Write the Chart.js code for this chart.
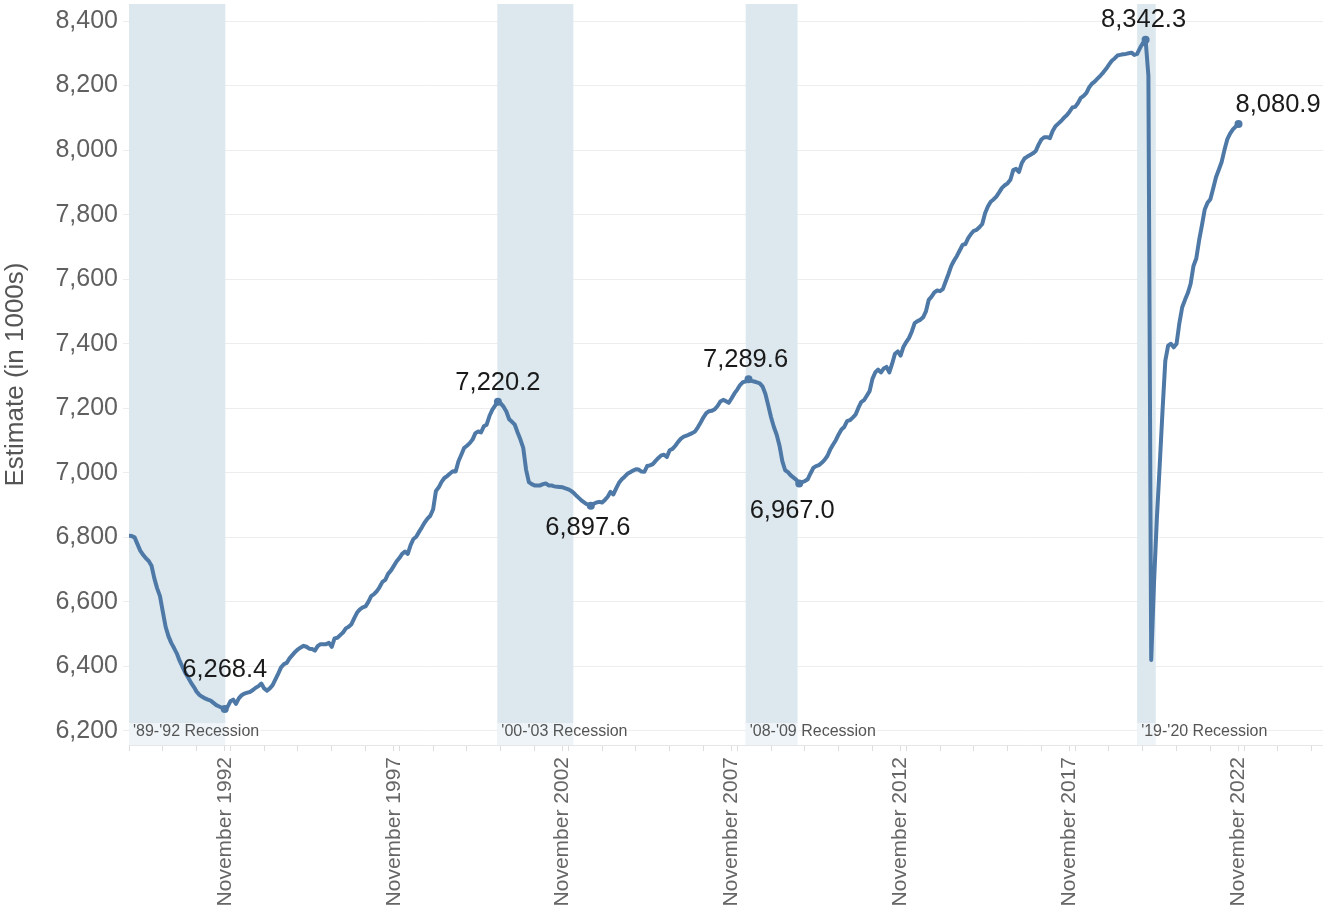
<!DOCTYPE html>
<html>
<head>
<meta charset="utf-8">
<script src="https://cdn.jsdelivr.net/npm/chart.js@4.4.1/dist/chart.umd.min.js"></script>
<style>
  html, body { margin: 0; padding: 0; background: #fff; }
  #graph { display: block; }
</style>
</head>
<body>
<canvas id="graph" width="1323" height="913"></canvas>
<script>
// monthly estimate (in 1000s), one row per year, starting January 1990
var firstYear = 1990;
var estimate = [
  6805, 6804, 6800, 6779, 6759, 6746, 6735, 6727, 6712, 6673, 6642, 6618,   // 1990
  6570, 6523, 6494, 6473, 6457, 6440, 6417, 6399, 6380, 6366, 6350, 6337,   // 1991
  6322, 6312, 6306, 6301, 6297, 6294, 6287, 6280, 6276, 6272, 6268.4, 6275, // 1992
  6292, 6297, 6284, 6301, 6311, 6316, 6319, 6321, 6327, 6334, 6339, 6347,   // 1993
  6332, 6325, 6332, 6342, 6360, 6378, 6397, 6407, 6411, 6425, 6435, 6445,   // 1994
  6453, 6459, 6464, 6461, 6455, 6454, 6449, 6463, 6469, 6469, 6469, 6473,   // 1995
  6461, 6487, 6489, 6497, 6505, 6518, 6523, 6531, 6550, 6567, 6577, 6583,   // 1996
  6586, 6600, 6618, 6624, 6633, 6646, 6662, 6668, 6687, 6697, 6711, 6725,   // 1997
  6736, 6749, 6756, 6749, 6776, 6795, 6802, 6817, 6831, 6846, 6858, 6867,   // 1998
  6887, 6944, 6955, 6972, 6984, 6990, 6998, 7005, 7004, 7036, 7056, 7077,   // 1999
  7084, 7092, 7103, 7123, 7128, 7125, 7144, 7149, 7176, 7195, 7208, 7220.2, // 2000
  7215, 7205, 7190, 7166, 7158, 7149, 7125, 7103, 7077, 7010, 6971, 6965,   // 2001
  6961, 6961, 6961, 6965, 6967, 6961, 6961, 6958, 6957, 6956, 6955, 6952,   // 2002
  6949, 6944, 6937, 6928, 6920, 6912, 6906, 6901, 6897.6, 6904, 6908, 6910, // 2003
  6908, 6916, 6926, 6941, 6933, 6952, 6969, 6980, 6988, 6997, 7002, 7007,   // 2004
  7011, 7010, 7004, 7003, 7021, 7023, 7027, 7037, 7046, 7054, 7056, 7049,   // 2005
  7070, 7074, 7084, 7096, 7106, 7112, 7115, 7119, 7123, 7128, 7141, 7156,   // 2006
  7172, 7185, 7191, 7192, 7197, 7207, 7221, 7226, 7222, 7217, 7231, 7246,   // 2007
  7258, 7272, 7281, 7283, 7289.6, 7285, 7283, 7280, 7277, 7267, 7244, 7209, // 2008
  7172, 7142, 7118, 7084, 7036, 7008, 7002, 6992, 6985, 6978, 6967.0, 6971, // 2009
  6974, 6980, 6998, 7015, 7021, 7024, 7031, 7040, 7052, 7072, 7087, 7101,   // 2010
  7119, 7134, 7142, 7160, 7163, 7171, 7180, 7201, 7219, 7225, 7239, 7253,   // 2011
  7291, 7311, 7320, 7311, 7323, 7328, 7311, 7338, 7369, 7376, 7363, 7390,   // 2012
  7405, 7418, 7438, 7464, 7470, 7474, 7482, 7500, 7536, 7546, 7559, 7565,   // 2013
  7563, 7569, 7593, 7616, 7641, 7658, 7672, 7689, 7706, 7709, 7727, 7740,   // 2014
  7750, 7753, 7761, 7771, 7804, 7825, 7840, 7847, 7856, 7869, 7883, 7891,   // 2015
  7897, 7908, 7938, 7942, 7932, 7959, 7974, 7980, 7985, 7990, 7997, 8017,   // 2016
  8033, 8040, 8040, 8037, 8059, 8074, 8082, 8090, 8100, 8108, 8119, 8132,   // 2017
  8134, 8146, 8162, 8168, 8177, 8195, 8206, 8213, 8222, 8231, 8241, 8252,   // 2018
  8265, 8277, 8284, 8293, 8295, 8297, 8298, 8300, 8302, 8295, 8298, 8316,   // 2019
  8331, 8342.3, 8230, 6420, 6660, 6858, 7021, 7190, 7347, 7394, 7400, 7389, // 2020
  7400, 7464, 7513, 7536, 7557, 7586, 7641, 7664, 7720, 7767, 7816, 7837,   // 2021
  7848, 7881, 7916, 7939, 7963, 8000, 8033, 8051, 8064, 8073, 8080.9        // 2022
];

var yTicks = [6200, 6400, 6600, 6800, 7000, 7200, 7400, 7600, 7800, 8000, 8200, 8400];
var xTickYears = [1992, 1997, 2002, 2007, 2012, 2017, 2022];
var lastAxisYear = 2025;

// recessions, in months counted from January 1990
var recessionNames = ["'89-'92 Recession", "'00-'03 Recession", "'08-'09 Recession", "'19-'20 Recession"];
var recessionStart = [0, 130.8, 219, 358];
var recessionEnd = [34.2, 157.8, 237.4, 364.6];

// months that get a value label
var markIndex = [34, 131, 164, 220, 238, 361, 394];

var font = "'Liberation Sans', Arial, sans-serif";
var lineColor = '#4e79a7';

// where each value label sits relative to its point
var labelPlace = [
  { dx: 0, dy: -32, align: 'center' },
  { dx: 0, dy: -12, align: 'center' },
  { dx: -3, dy: 29, align: 'center' },
  { dx: -3, dy: -12, align: 'center' },
  { dx: -7, dy: 35, align: 'center' },
  { dx: -2, dy: -13, align: 'center' },
  { dx: -3, dy: -12, align: 'left' }
];

var points = estimate.map(function(v, i) { return { x: i, y: v }; });

var xTicks = [];
for (var yr = firstYear; yr <= lastAxisYear; yr++) {
  xTicks.push((yr - firstYear) * 12);
}
xTickYears.forEach(function(yr) { xTicks.push((yr - firstYear) * 12 + 10); });
xTicks.sort(function(a, b) { return a - b; });

var recessions = {
  id: 'recessions',
  beforeDatasetsDraw: function(chart) {
    var ctx = chart.ctx, area = chart.chartArea, xs = chart.scales.x;
    ctx.save();
    for (var i = 0; i < recessionNames.length; i++) {
      var x0 = Math.max(xs.getPixelForValue(recessionStart[i]), area.left);
      var x1 = xs.getPixelForValue(recessionEnd[i]);
      ctx.fillStyle = '#dce8ee';
      ctx.fillRect(x0, area.top, x1 - x0, area.bottom - area.top);
      ctx.font = '16px ' + font;
      var w = ctx.measureText(recessionNames[i]).width;
      ctx.fillStyle = 'rgba(255,255,255,0.5)';
      ctx.fillRect(x0, area.bottom - 22, w + 6, 22);
      ctx.fillStyle = '#555555';
      ctx.textBaseline = 'middle';
      ctx.textAlign = 'left';
      ctx.fillText(recessionNames[i], x0 + 4, area.bottom - 13);
    }
    ctx.restore();
  }
};

var valueLabels = {
  id: 'valueLabels',
  afterDatasetsDraw: function(chart) {
    var ctx = chart.ctx, xs = chart.scales.x, ys = chart.scales.y;
    ctx.save();
    ctx.font = '25.5px ' + font;
    ctx.fillStyle = '#1a1a1a';
    ctx.textBaseline = 'alphabetic';
    markIndex.forEach(function(m, k) {
      var v = estimate[m];
      var txt = v.toLocaleString('en-US', { minimumFractionDigits: 1, maximumFractionDigits: 1 });
      ctx.textAlign = labelPlace[k].align;
      ctx.fillText(txt, xs.getPixelForValue(m) + labelPlace[k].dx, ys.getPixelForValue(v) + labelPlace[k].dy);
    });
    ctx.restore();
  }
};

new Chart(document.getElementById('graph'), {
  type: 'line',
  data: {
    datasets: [{
      label: 'Estimate',
      data: points,
      borderColor: lineColor,
      backgroundColor: lineColor,
      borderWidth: 4,
      borderJoinStyle: 'round',
      borderCapStyle: 'round',
      tension: 0,
      pointRadius: function(c) { return markIndex.indexOf(c.dataIndex) >= 0 ? 4 : 0; },
      pointBorderWidth: 0,
      pointBackgroundColor: lineColor
    }]
  },
  options: {
    responsive: false,
    animation: false,
    devicePixelRatio: 1,
    layout: { autoPadding: false, padding: { top: 4, right: 0, left: 0, bottom: 0 } },
    plugins: { legend: { display: false }, tooltip: { enabled: false } },
    scales: {
      x: {
        type: 'linear',
        min: 0,
        max: 424,
        afterBuildTicks: function(s) { s.ticks = xTicks.map(function(v) { return { value: v }; }); },
        afterFit: function(s) { s.height = 168; s.paddingLeft = 0; s.paddingRight = 0; },
        ticks: {
          autoSkip: false,
          minRotation: 90,
          maxRotation: 90,
          padding: 6,
          color: '#666666',
          font: { family: font, size: 21 },
          callback: function(v) {
            return (v % 12 === 10) ? 'November ' + (firstYear + Math.floor(v / 12)) : '';
          }
        },
        grid: { drawOnChartArea: false, drawTicks: true, tickLength: 6, color: '#dddddd' },
        border: { display: true, color: '#e6e6e6' }
      },
      y: {
        min: 6156.6,
        max: 8452.7,
        afterBuildTicks: function(s) { s.ticks = yTicks.map(function(v) { return { value: v }; }); },
        afterFit: function(s) { s.width = 129; s.paddingTop = 0; s.paddingBottom = 0; },
        ticks: {
          padding: 5,
          color: '#606060',
          font: { family: font, size: 25 },
          callback: function(v) { return v.toLocaleString('en-US'); }
        },
        grid: { color: '#ededed', tickLength: 6, drawTicks: true },
        border: { display: false },
        title: {
          display: true,
          text: 'Estimate (in 1000s)',
          color: '#555555',
          font: { family: font, size: 26 },
          padding: { top: 0, bottom: 0 }
        }
      }
    }
  },
  plugins: [recessions, valueLabels]
});
</script>
</body>
</html>
